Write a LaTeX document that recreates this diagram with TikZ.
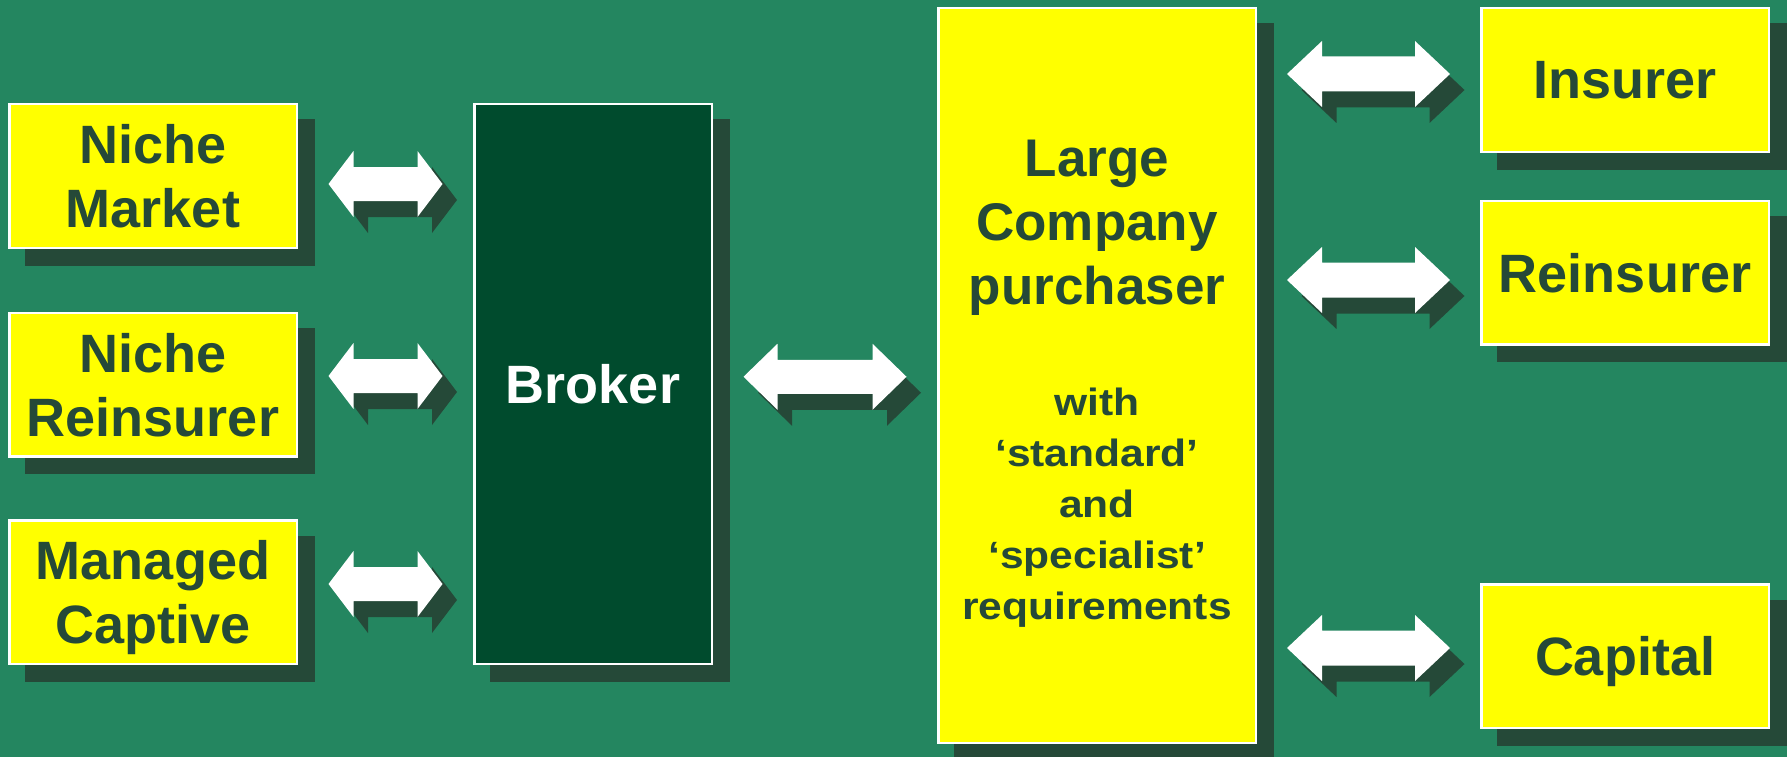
\documentclass[tikz,border=0pt]{standalone}
\usepackage{fontspec}
\setmainfont{Liberation Sans}
\newfontfamily\notefont[FakeStretch=1.12]{Liberation Sans}
\usetikzlibrary{calc,shadows}

\definecolor{bg}{RGB}{36,134,96}
\definecolor{shadowc}{RGB}{37,73,56}
\definecolor{brokerc}{RGB}{0,75,45}
\definecolor{textc}{RGB}{37,73,56}
\definecolor{boxyellow}{RGB}{255,255,0}

\tikzset{
  boxshadow/.style={general shadow={shadow xshift=16.5pt, shadow yshift=-16.5pt,
      fill=shadowc, draw=shadowc, line width=2.5pt}},
  framed/.style={boxshadow, draw=white, line width=2.5pt, inner sep=0pt},
  % a small negative depth sets the capitals a touch below the centre line
  marketbox/.style={framed, fill=boxyellow, text=textc,
      font=\fontsize{54}{64}\selectfont\bfseries, align=center, text depth=-4pt,
      minimum width=287.5pt, minimum height=143.5pt},
  oneline/.style={text depth=-7pt},
  brokerbox/.style={framed, fill=brokerc, text=white,
      font=\fontsize{54}{64}\selectfont\bfseries, oneline},
  purchbox/.style={framed, fill=boxyellow},
  titletext/.style={text=textc, font=\fontsize{53}{64}\selectfont\bfseries,
      align=center, text depth=0pt, inner sep=0pt},
  notetext/.style={text=textc, font=\notefont\fontsize{38}{51}\selectfont\bfseries,
      align=center, text depth=0pt, inner sep=0pt},
  % double-headed block arrow with its drop shadow:
  % #1 half length, #2 head length, #3 half head width, #4 half shaft width
  pics/dblarrow/.style n args={4}{code={
    \foreach \dx/\dy/\col in {14.5/16/shadowc,0/0/white}
      \fill[\col, shift={(\dx,\dy)}]
        (-#1,0) -- (-#1+#2,-#3) -- (-#1+#2,-#4) -- (#1-#2,-#4) -- (#1-#2,-#3)
        -- (#1,0) -- (#1-#2,#3) -- (#1-#2,#4) -- (-#1+#2,#4) -- (-#1+#2,#3) -- cycle;
  }}
}

\begin{document}
\begin{tikzpicture}[x=1pt,y=-1pt]
\useasboundingbox (0,0) rectangle (1787,757);
\clip (0,0) rectangle (1787,757);
\fill[bg] (0,0) rectangle (1787,757);

% markets on the left
\node[marketbox] (nichemkt) at (153,176)   {Niche\\Market};
\node[marketbox] (nichere)  at (153,384.5) {Niche\\Reinsurer};
\node[marketbox] (captive)  at (153,592)   {Managed\\Captive};

% broker
\node[brokerbox, minimum width=237.5pt, minimum height=559.5pt] (broker) at (593,384) {Broker};

% purchaser
\node[purchbox, minimum width=317.5pt, minimum height=734.5pt] (purchaser) at (1097,375.5) {};
\node[titletext] (ptitle) at ($(purchaser.north)+(0,215)$) {Large\\Company\\purchaser};
\node[notetext]  (pnote)  at ($(purchaser.north)+(0,496.5)$)
  {with\\‘standard’\\and\\‘specialist’\\requirements};

% direct markets on the right
\node[marketbox, oneline] (insurer)   at (1625,80)    {Insurer};
\node[marketbox, oneline] (reinsurer) at (1625,272.5) {Reinsurer};
\node[marketbox, oneline] (capital)   at (1625,656)   {Capital};

% arrows: markets <-> broker
\pic at ($(nichemkt.east)!.5!(nichemkt.east -| broker.west)+(0,8)$) {dblarrow={57}{25}{33}{17}};
\pic at ($(nichere.east)!.5!(nichere.east -| broker.west)+(0,-8.5)$) {dblarrow={57}{25}{33}{17}};
\pic at ($(captive.east)!.5!(captive.east -| broker.west)+(0,-8)$) {dblarrow={57}{25}{33}{17}};

% broker <-> purchaser
\pic at ($(broker.east)!.5!(purchaser.west)+(0,-3)$) {dblarrow={81.5}{34}{33}{17}};

% purchaser <-> direct markets
\pic at ($(insurer.west -| purchaser.east)!.5!(insurer.west)+(0,-6)$) {dblarrow={81.5}{35}{33}{17.5}};
\pic at ($(reinsurer.west -| purchaser.east)!.5!(reinsurer.west)+(0,7.5)$) {dblarrow={81.5}{35}{33}{17.5}};
\pic at ($(capital.west -| purchaser.east)!.5!(capital.west)+(0,-8)$) {dblarrow={81.5}{35}{33}{17.5}};
\end{tikzpicture}
\end{document}
